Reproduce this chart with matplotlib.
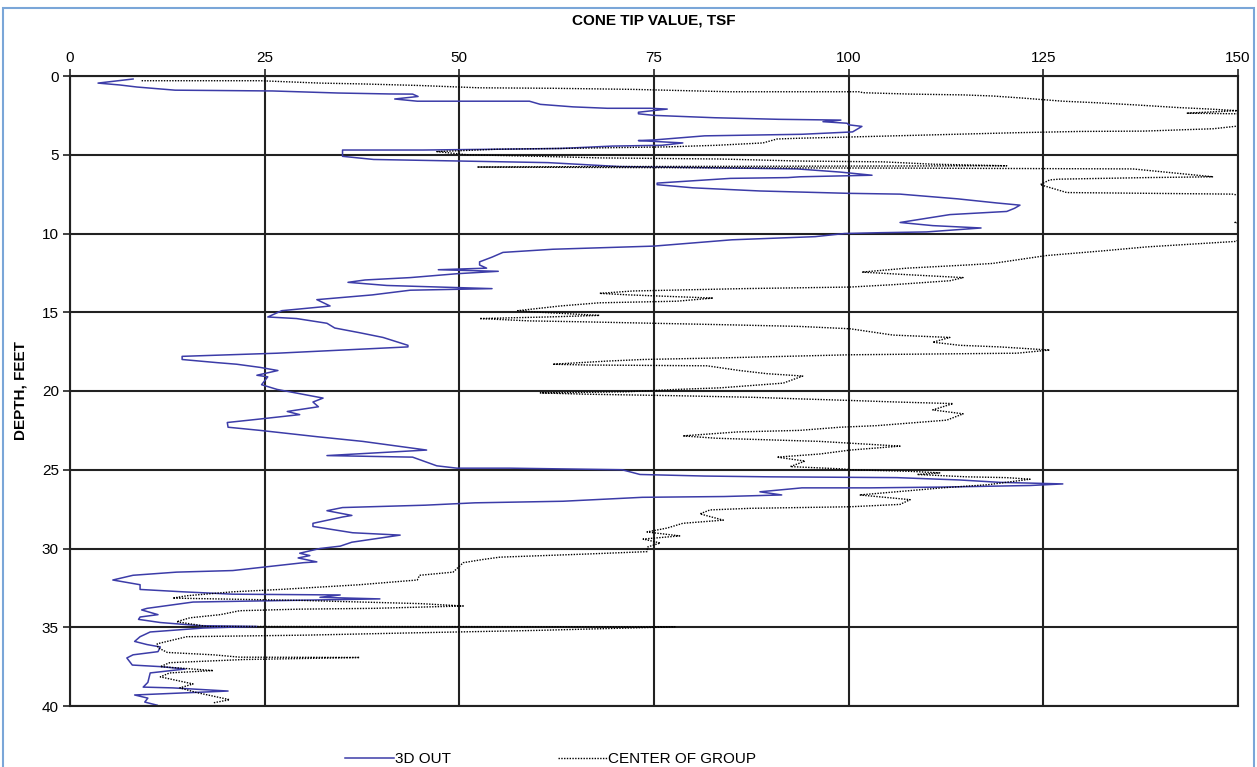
import matplotlib.pyplot as plt
from matplotlib.patches import Rectangle

# 3D OUT (blue solid): depth (ft) / cone tip (tsf)
out_depth = [0.19, 0.45, 0.57, 0.7, 0.9, 0.95, 1.08, 1.14, 1.15, 1.3, 1.46, 1.6, 1.6, 1.8, 1.96,
             2.05, 2.05, 2.1, 2.3, 2.4, 2.5, 2.65, 2.75, 2.8, 2.9, 3.0, 3.1, 3.2, 3.55, 3.7, 3.8,
             4.06, 4.1, 4.25, 4.4, 4.45, 4.6, 4.65, 4.7, 4.7, 5.1, 5.3, 5.4, 5.5, 5.75, 5.9, 6.1,
             6.3, 6.4, 6.45, 6.5, 6.8, 6.9, 7.1, 7.3, 7.45, 7.5, 7.8, 8.06, 8.2, 8.4, 8.6, 8.8,
             9.3, 9.5, 9.65, 9.9, 9.95, 10.0, 10.2, 10.4, 10.8, 11.0, 11.2, 11.5, 11.8, 12.0,
             12.2, 12.3, 12.4, 12.55, 12.8, 12.95, 13.1, 13.3, 13.45, 13.5, 13.6, 13.9, 14.2,
             14.6, 14.65, 14.9, 15.3, 15.4, 15.7, 16.0, 16.3, 16.6, 17.1, 17.2, 17.6, 17.8, 18.0,
             18.2, 18.3, 18.5, 18.7, 19.0, 19.1, 19.6, 19.9, 20.45, 20.7, 21.0, 21.3, 21.5, 21.8,
             22.0, 22.3, 22.5, 22.9, 23.2, 23.75, 24.1, 24.2, 24.75, 24.9, 24.9, 24.95, 25.0,
             25.3, 25.4, 25.45, 25.5, 25.65, 25.8, 25.85, 25.9, 26.0, 26.1, 26.15, 26.15, 26.4,
             26.6, 26.7, 26.75, 27.0, 27.1, 27.25, 27.4, 27.6, 27.9, 28.0, 28.4, 28.6, 29.0,
             29.15, 29.6, 29.85, 30.0, 30.3, 30.45, 30.6, 30.85, 30.9, 31.4, 31.5, 31.7, 32.0,
             32.3, 32.6, 32.75, 32.9, 32.95, 33.1, 33.2, 33.3, 33.4, 33.8, 33.9, 34.2, 34.35,
             34.5, 34.7, 34.9, 34.95, 35.05, 35.3, 35.6, 35.9, 36.1, 36.25, 36.55, 36.75, 36.95,
             37.4, 37.5, 37.65, 37.9, 38.5, 38.8, 38.85, 39.05, 39.2, 39.3, 39.5, 39.75, 39.95]
out_tip = [8.1, 3.6, 6.4, 8.6, 13.5, 26, 34.4, 41, 44, 44.7, 41.7, 44.6, 59, 60.4, 64.6,
           69, 74.5, 76.7, 73, 73, 75, 82.8, 91, 99, 96.7, 99.8, 100, 101.7, 100.5, 94, 81.5,
           75, 73, 78.7, 76, 69.6, 63, 54.8, 45.3, 35, 35, 39, 50, 61.4, 70.6, 93.4, 98.9,
           103, 93.7, 92.2, 84.8, 75.4, 75.4, 80, 88.6, 100, 106.6, 114, 119, 122, 121.3, 120.3, 113,
           106.6, 110.8, 117, 110, 104, 99.5, 95.7, 85, 75, 62, 55.6, 54.2, 52.6, 52.6,
           53.5, 47.3, 55, 49.8, 43.7, 37.9, 35.7, 40.7, 51, 54.2, 43.7, 38.8, 31.7,
           33.4, 32.5, 27.2, 25.4, 29.1, 33, 34, 37.2, 40.2, 43.4, 43.4, 26.6, 14.4, 14.4,
           18.9, 21.4, 24.4, 26.7, 24, 25.4, 24.6, 26.6, 32.5, 31.2, 31.9, 27.9, 29.5, 24,
           20.2, 20.3, 24.4, 31.7, 37.6, 45.8, 33, 44, 47.1, 49.7, 56.5, 64.2, 70.9,
           73.2, 81.5, 89.9, 106.2, 114.3, 119.4, 123.3, 127.5, 123.3, 112, 102.7, 94, 88.6,
           91.4, 84, 73.5, 63.3, 52, 45.6, 35, 33, 36.2, 35, 31.2, 31.2, 36.3,
           42.4, 36.2, 34.7, 32.1, 29.5, 30.8, 29.3, 31.7, 30, 20.9, 13.7, 8.1, 5.5,
           9, 9, 14.5, 20.9, 34.7, 32.1, 39.8, 27.9, 15.8, 9.9, 9.2, 11.3, 9,
           8.8, 11.6, 16.7, 24, 17.1, 10.3, 9, 8.3, 9.9, 11.6, 11.3, 8.1, 7.3,
           8, 11.6, 14.8, 10.3, 10, 9.4, 13.2, 20.3, 13.2, 8.3, 10, 9.6, 11.2]

# CENTER OF GROUP (black dotted)
cog_depth = [0.3, 0.3, 0.45, 0.5, 0.6, 0.75, 0.78, 0.85, 1.0, 1.0, 1.06, 1.15, 1.2, 1.27, 1.4,
             1.6, 1.7, 1.84, 2.0, 2.1, 2.2, 2.36, 2.4, 2.8, 3.2, 3.35, 3.5, 3.52, 3.6, 3.7, 3.8,
             3.9, 3.95, 4.0, 4.25, 4.4, 4.5, 4.6, 4.65, 4.8, 5.0, 5.1, 5.2, 5.27, 5.4, 5.45, 5.6,
             5.7, 5.75, 5.78, 5.82, 5.85, 5.9, 6.4, 6.45, 6.55, 6.6, 6.9, 7.4, 7.5, 8.5, 9.3,
             9.5, 10.5, 10.6, 10.85, 11.1, 11.4, 11.9, 12.0, 12.2, 12.45, 12.6, 12.8, 13.0, 13.25,
             13.4, 13.45, 13.5, 13.65, 13.8, 13.9, 14.0, 14.1, 14.3, 14.4, 14.6, 14.9, 15.0, 15.2,
             15.3, 15.4, 15.55, 15.6, 15.7, 15.8, 15.9, 16.05, 16.45, 16.6, 16.9, 17.1, 17.2, 17.4,
             17.6, 17.7, 17.8, 17.9, 18.0, 18.1, 18.3, 18.35, 18.4, 18.7, 18.9, 19.05, 19.5, 19.8,
             19.9, 20.05, 20.1, 20.12, 20.2, 20.3, 20.4, 20.5, 20.6, 20.7, 20.8, 21.2, 21.45,
             21.85, 22.2, 22.3, 22.5, 22.6, 22.85, 23.0, 23.1, 23.2, 23.5, 23.75, 24.0, 24.2,
             24.45, 24.8, 24.95, 25.0, 25.1, 25.2, 25.3, 25.45, 25.5, 25.6, 25.95, 26.15, 26.6,
             26.9, 27.2, 27.35, 27.4, 27.45, 27.55, 27.8, 28.2, 28.4, 28.7, 28.95, 29.2, 29.4,
             29.65, 29.9, 30.2, 30.35, 30.55, 30.7, 30.9, 31.5, 31.7, 32.0, 32.3, 32.6, 32.75,
             33.0, 33.15, 33.3, 33.5, 33.65, 33.8, 33.85, 33.95, 34.2, 34.4, 34.65, 34.95, 34.97,
             35.2, 35.35, 35.5, 35.6, 36.05, 36.3, 36.6, 36.75, 36.9, 36.92, 37.05, 37.25, 37.5,
             37.75, 37.9, 38.15, 38.6, 38.85, 39.15, 39.6, 39.8]
cog_tip = [9.2, 24.4, 32.1, 37.2, 44.7, 52.6, 62, 72.3, 84.7, 101.4, 101.8, 108, 114.7, 118.5, 122.3,
           127.5, 131.9, 137, 142.2, 146.4, 149.9, 143.4, 150, 158, 149.6, 146.8, 137.8, 129.7, 121.6, 113.9, 106.2,
           98, 93.7, 90.8, 89, 83, 76.7, 63, 54.8, 47.1, 51, 60.4, 68, 83.5, 93.7, 104.4, 110.8,
           120.3, 70, 52.3, 75, 107.9, 136.5, 146.8, 138.3, 127, 125.8, 124.6, 128, 149.3, 160, 149.6,
           152, 149.8, 146.5, 138.3, 132.7, 125.4, 118.5, 115.2, 107.5, 101.7, 107, 114.7, 113, 105.7,
           100.2, 93.7, 86.4, 72.3, 68, 71.9, 77.4, 82.6, 77.9, 68, 63, 57.5, 60.4, 68,
           61.3, 52.6, 59.1, 65.1, 74.9, 84.8, 93.7, 100.2, 105.7, 113, 110.8, 114.3, 119.4, 125.8,
           121.6, 100.2, 91.6, 83.5, 73.6, 69, 62, 66.4, 81.8, 86, 89.5, 94.1, 91.6, 83.5,
           77.9, 71.5, 63.8, 60.4, 66, 77.9, 87.7, 93.7, 100.2, 106.2, 113.4, 110.8, 114.7,
           112.6, 103.6, 98.9, 93.7, 85.7, 78.7, 83, 89.5, 96.3, 106.6, 100.2, 96.3, 90.8,
           94.4, 92.5, 99.3, 100.2, 107.9, 111.7, 108.8, 115.2, 120.3, 123.3, 117.9, 112, 101.4,
           107.9, 106.6, 100.2, 93.7, 87.3, 82.2, 80.9, 83.9, 78.7, 76.7, 74.1, 78.3, 73.6,
           75.8, 74.2, 74.1, 66.4, 55.2, 53, 50.5, 49.2, 44.9, 44.6, 37.2, 27, 20.9,
           15, 13.2, 30, 45, 50.5, 39, 29.5, 21.8, 19.3, 15.4, 13.7, 17.6, 77.7,
           60, 44.6, 30.4, 15, 11.2, 11.3, 12.5, 18.4, 21.8, 37.2, 22.3, 12.8, 11.6,
           18.4, 12.8, 11.6, 15.8, 14.1, 16.3, 20.5, 18.4]

W, H = 1257, 767
fig = plt.figure(figsize=(W / 100, H / 100), dpi=100)
ax = fig.add_axes([70 / W, 1 - 706 / H, (1238 - 70) / W, (706 - 76) / H])

font = ['Liberation Sans Narrow', 'Liberation Sans', 'DejaVu Sans']

ax.plot(out_tip, out_depth, color='#3c3ca8', lw=1.1, label='3D OUT', clip_on=True)
ax.plot(cog_tip, cog_depth, color='black', lw=1.0, linestyle=(0, (1, 1)),
        label='CENTER OF GROUP', clip_on=True)

ax.set_xlim(0, 150)
ax.set_ylim(40, 0)
ax.set_xticks(range(0, 151, 25))
ax.set_yticks(range(0, 41, 5))
ax.xaxis.tick_top()
ax.xaxis.set_label_position('top')
ax.grid(True, color='#222222', lw=1.5)
for s in ax.spines.values():
    s.set_color('#222222')
    s.set_linewidth(1.5)
ax.tick_params(axis='both', length=5, width=1.2, color='#222222', labelsize=11, pad=3)
for lab in ax.get_xticklabels() + ax.get_yticklabels():
    lab.set_family(font)

ax.set_xlabel('CONE TIP VALUE, TSF', fontsize=11, fontweight='bold', family=font, labelpad=19)
ax.set_ylabel('DEPTH, FEET', fontsize=11, fontweight='bold', family=font, labelpad=10)

fig.legend(loc='lower center', ncol=2, frameon=False, bbox_to_anchor=(0.438, -0.017),
           prop={'family': font, 'size': 11}, columnspacing=7, handlelength=3.2, handletextpad=0.1)

# light blue chart frame
fig.patches.append(Rectangle((3 / W, -0.02), (1254 - 3) / W, 1.02 - 8 / H,
                             transform=fig.transFigure, fill=False, ec='#7aa6d8', lw=1.5))

fig.savefig('out.png', dpi=100)
